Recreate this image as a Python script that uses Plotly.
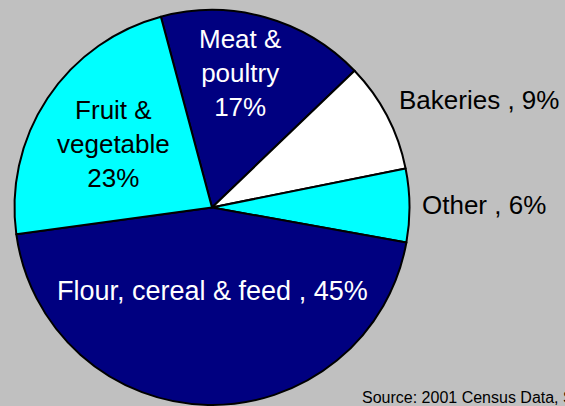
import plotly.graph_objects as go

labels = ["Meat & poultry", "Bakeries", "Other", "Flour, cereal & feed", "Fruit & vegetable"]
values = [17, 9, 6, 45, 23]
colors = ["#000080", "#FFFFFF", "#00FFFF", "#000080", "#00FFFF"]
label_text = ["Meat &<br>poultry<br>17%", "Bakeries , 9%", "Other , 6%",
              "Flour, cereal & feed , 45%", "Fruit &<br>vegetable<br>23%"]
text_colors = ["white", "black", "black", "white", "black"]

W, H = 565, 406

fig = go.Figure()
fig.add_trace(go.Pie(
    labels=labels,
    values=values,
    sort=False,
    direction="clockwise",
    rotation=-15,
    marker=dict(colors=colors, line=dict(color="black", width=2)),
    textinfo="none",
    hoverinfo="label+percent",
    showlegend=False,
    domain=dict(x=[14 / W, 410 / W], y=[1 - 405 / H, 1 - 10 / H]),
))

# label anchor points (pixels) and font sizes
pos = [(240, 73, "center", 26), (397, 100, "left", 26), (420, 205, "left", 26),
       (212, 291, "center", 27), (113, 144, "center", 26)]
for (x, y, anc, fs), txt, col in zip(pos, label_text, text_colors):
    fig.add_annotation(
        x=x / W, y=1 - y / H, xref="paper", yref="paper",
        text=txt, showarrow=False, xanchor=anc, yanchor="middle",
        align="center", font=dict(size=fs, color=col, family="Liberation Sans, Arial"),
    )

fig.add_annotation(
    x=360 / W, y=1 - 397 / H, xref="paper", yref="paper",
    text="Source: 2001 Census Data, Statistics Canada", showarrow=False,
    xanchor="left", yanchor="middle",
    font=dict(size=16, color="black", family="Liberation Sans, Arial"),
)

fig.update_layout(
    width=W, height=H,
    margin=dict(l=0, r=0, t=0, b=0),
    paper_bgcolor="#C0C0C0",
    plot_bgcolor="#C0C0C0",
)

fig.write_html(
    "out.html",
    config={"displayModeBar": False},
    post_script="document.body.style.margin='0';document.body.style.overflow='hidden';document.body.style.background='#C0C0C0';",
)
